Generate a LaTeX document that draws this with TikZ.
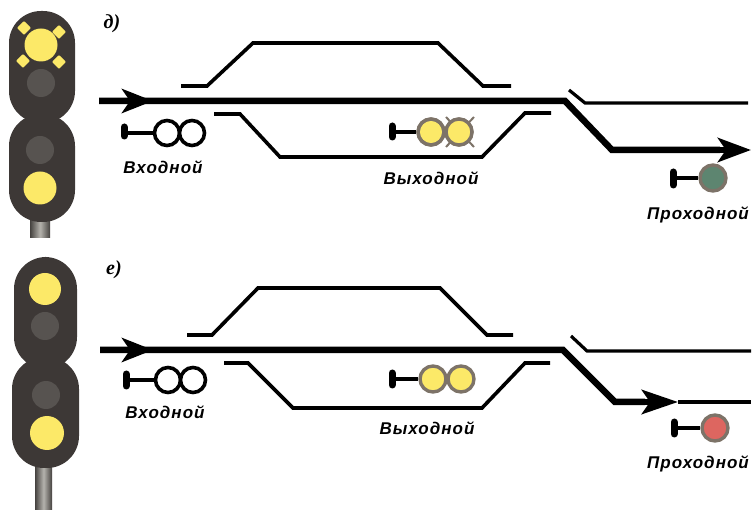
\documentclass[tikz,border=0pt]{standalone}
\usepackage{fontspec}
\setmainfont{Liberation Sans}
\newfontfamily\lblfont[LetterSpace=6]{Liberation Sans}
\newfontfamily\tagfont{Liberation Serif}
\usetikzlibrary{arrows.meta}
\definecolor{bodyc}{HTML}{3D3836}
\definecolor{dimc}{HTML}{575350}
\definecolor{yelc}{HTML}{FCE968}
\definecolor{ringc}{HTML}{7D7368}
\definecolor{greenc}{HTML}{5D8570}
\definecolor{redc}{HTML}{DD6660}
\definecolor{polelt}{HTML}{B5B3AD}
\definecolor{poledk}{HTML}{45423F}
\tikzset{
 head/.style={fill=bodyc,draw=none,rounded corners=32pt},
 pole/.style={left color=poledk,right color=poledk,middle color=polelt,draw=none},
 yellamp/.style={circle,fill=yelc,draw=none,inner sep=0pt,minimum size=#1},
 dimlamp/.style={circle,fill=dimc,draw=none,inner sep=0pt,minimum size=28pt},
 spark/.style={fill=yelc,draw=none,rounded corners=1pt},
 thicktrack/.style={line width=6.5pt,line join=miter},
 thintrack/.style={line width=3.2pt,line join=miter},
 sideline/.style={line width=3.6pt,line join=miter},
 stem/.style={line width=3.4pt},
 capbar/.style={line width=7pt,line cap=round},
 oplamp/.style={circle,draw=black,line width=3.6pt,fill=white,inner sep=0pt,minimum size=25pt},
 lamp/.style={circle,draw=ringc,line width=3.4pt,fill=#1,inner sep=0pt,minimum size=26pt},
 ringonly/.style={circle,draw=ringc,line width=3.4pt,inner sep=0pt,minimum size=26pt},
 cross/.style={draw=ringc,line width=2pt},
 lbl/.style={font=\lblfont\itshape\bfseries\fontsize{17}{19}\selectfont,inner sep=0pt},
 tag/.style={font=\tagfont\itshape\bfseries\fontsize{20}{22}\selectfont,inner sep=0pt},
}
\begin{document}
\begin{tikzpicture}[x=1pt,y=-1pt]
\useasboundingbox (0,0) rectangle (753,510);
% --- upper signal head
\fill[pole] (30,215) rectangle (50,238);
\fill[head] (9,11) rectangle (75,123);
\fill[head] (9,114) rectangle (75,222);
\fill[bodyc] (31,108) rectangle (53,128);
\node[yellamp=33pt] (ua) at (41,45) {};
\node[dimlamp] (ub) at (41,83) {};
\node[dimlamp] (uc) at (40,150) {};
\node[yellamp=33pt] (ud) at (40,188) {};
\foreach \cx/\cy in {24/28,59/32,23/61,59/62}
  \fill[spark] (\cx-7,\cy) -- (\cx,\cy-7) -- (\cx+7,\cy) -- (\cx,\cy+7) -- cycle;
\node[tag] (tagd) at (112,24) {д)};
% --- upper tracks
\coordinate (a0) at (99,101);
\coordinate (a1) at (565,101);
\coordinate (a2) at (612,150);
\coordinate (a3) at (720,150);
\coordinate (a4) at (751,150);
\coordinate (a5) at (153,101);
\coordinate (a6) at (125,101);
\draw[thicktrack] (a0) -- (a1) -- (a2) -- (a3);
\draw[line width=6.5pt,-{Stealth[length=31pt,width=24pt,inset=8pt]}] (a6) -- (a5);
\draw[line width=6.5pt,-{Stealth[length=33pt,width=24pt,inset=8pt]}] (a3) -- (a4);
\coordinate (b0) at (181,86);
\coordinate (b1) at (207,86);
\coordinate (b2) at (253,43);
\coordinate (b3) at (438,43);
\coordinate (b4) at (483,86);
\coordinate (b5) at (511,86);
\draw[sideline] (b0) -- (b1) -- (b2) -- (b3) -- (b4) -- (b5);
\coordinate (c0) at (214,114);
\coordinate (c1) at (240,114);
\coordinate (c2) at (280,157);
\coordinate (c3) at (482,157);
\coordinate (c4) at (525,113);
\coordinate (c5) at (551,113);
\draw[sideline] (c0) -- (c1) -- (c2) -- (c3) -- (c4) -- (c5);
\coordinate (d0) at (569,90);
\coordinate (d1) at (585,103);
\coordinate (d2) at (748,103);
\draw[thintrack] (d0) -- (d1) -- (d2);
% --- upper track signals
\coordinate (e0) at (124,133);
\node[oplamp] (e1) at (167,133) {};
\node[oplamp] (e2) at (192,133) {};
\draw[stem] (e0) -- (e1);
\draw[capbar] (124,127) -- (124,136);
\node[lbl] (e3) at (163,167) {Входной};
\coordinate (f0) at (392,132);
\node[lamp=yelc] (f1) at (431,132) {};
\node[lamp=yelc] (f2) at (459,132) {};
\draw[stem] (f0) -- (f1);
\draw[capbar] (392,126) -- (392,137);
\draw[cross] (446,117) -- (474,147) (474,117) -- (446,147);
\node[lamp=yelc,draw=none] (f2b) at (459,132) {};
\node[ringonly] (f1b) at (431,132) {};
\node[ringonly] (f2c) at (459,132) {};
\node[lbl] (f3) at (431,178) {Выходной};
\coordinate (g0) at (673,178);
\node[lamp=greenc] (g1) at (713,178) {};
\draw[stem] (g0) -- (g1);
\draw[capbar] (673,172) -- (673,185);
\node[lbl] (g3) at (698,215) {Проходной};
% --- lower signal head
\fill[pole] (35,455) rectangle (52,510);
\fill[head] (14,257) rectangle (77,369);
\fill[head] (12,357) rectangle (79,468);
\fill[bodyc] (35,350) rectangle (56,375);
\node[yellamp=32pt] (ha) at (45,289) {};
\node[dimlamp] (hb) at (45,326) {};
\node[dimlamp] (hc) at (46,395) {};
\node[yellamp=34pt] (hd) at (47,433) {};
\node[tag] (tage) at (114,270) {е)};
% --- lower tracks
\coordinate (i0) at (100,350);
\coordinate (i1) at (563,350);
\coordinate (i2) at (615,402);
\coordinate (i3) at (645,402);
\coordinate (i4) at (678,402);
\coordinate (i5) at (153,350);
\coordinate (i6) at (125,350);
\coordinate (i7) at (751,402);
\draw[thintrack] (i4) -- (i7);
\draw[thicktrack] (i0) -- (i1) -- (i2) -- (i3);
\draw[line width=6.5pt,-{Stealth[length=31pt,width=24pt,inset=8pt]}] (i6) -- (i5);
\draw[line width=6.5pt,-{Stealth[length=36pt,width=24pt,inset=8pt]}] (i3) -- (i4);
\coordinate (j0) at (187,335);
\coordinate (j1) at (212,335);
\coordinate (j2) at (258,288);
\coordinate (j3) at (440,288);
\coordinate (j4) at (487,335);
\coordinate (j5) at (513,335);
\draw[sideline] (j0) -- (j1) -- (j2) -- (j3) -- (j4) -- (j5);
\coordinate (k0) at (224,363);
\coordinate (k1) at (248,363);
\coordinate (k2) at (293,408);
\coordinate (k3) at (482,408);
\coordinate (k4) at (525,363);
\coordinate (k5) at (550,363);
\draw[sideline] (k0) -- (k1) -- (k2) -- (k3) -- (k4) -- (k5);
\coordinate (l0) at (571,336);
\coordinate (l1) at (587,351);
\coordinate (l2) at (751,351);
\draw[thintrack] (l0) -- (l1) -- (l2);
% --- lower track signals
\coordinate (m0) at (126,380);
\node[oplamp] (m1) at (168,380) {};
\node[oplamp] (m2) at (193,380) {};
\draw[stem] (m0) -- (m1);
\draw[capbar] (126,374) -- (126,386);
\node[lbl] (m3) at (165,412) {Входной};
\coordinate (n0) at (392,379);
\node[lamp=yelc] (n1) at (433,379) {};
\node[lamp=yelc] (n2) at (461,379) {};
\draw[stem] (n0) -- (n1);
\draw[capbar] (392,373) -- (392,385);
\node[lbl] (n3) at (427,428) {Выходной};
\coordinate (o0) at (674,428);
\node[lamp=redc] (o1) at (715,428) {};
\draw[stem] (o0) -- (o1);
\draw[capbar] (674,422) -- (674,434);
\node[lbl] (o3) at (698,464) {Проходной};
\end{tikzpicture}
\end{document}
